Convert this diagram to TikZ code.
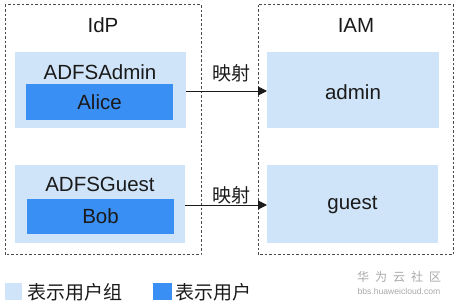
\documentclass[tikz,border=0pt]{standalone}
\usepackage{fontspec}
\setmainfont{Liberation Sans}
\newfontfamily\cjk{Noto Sans CJK SC}
\usetikzlibrary{arrows.meta,positioning}
\definecolor{lightgrp}{HTML}{CFE4F8}
\definecolor{darkusr}{HTML}{3A8FF5}
\definecolor{framegray}{HTML}{4A4A4A}
\definecolor{txt}{HTML}{1A1A1A}
\definecolor{wm}{HTML}{A8A8A8}
\tikzset{
  frame/.style={draw=framegray, line width=1pt, dash pattern=on 2.5pt off 2pt},
  grpbox/.style={fill=lightgrp, draw=none},
  usrbox/.style={fill=darkusr, draw=none},
  lbl/.style={font=\fontsize{20.5}{24}\selectfont, text=txt, inner sep=0pt},
  cjklbl/.style={font=\cjk\fontsize{19}{22}\selectfont, text=txt, inner sep=0pt},
  maparrow/.style={draw=txt, line width=0.9pt, -{Triangle[length=9pt,width=9pt]}},
}
\begin{document}
\begin{tikzpicture}[x=1pt,y=-1pt]
\useasboundingbox (0,0) rectangle (456,304);
% frames
\draw[frame] (5,5) rectangle (201,255);
\draw[frame] (258,5) rectangle (453,255);
\node[lbl] (idp) at (103,25) {IdP};
\node[lbl] (iam) at (356,25) {IAM};
% admin group
\path[grpbox] (15,52) rectangle (186,128);
\coordinate (g1e) at (186,91);
\node[lbl] (g1) at (100,72) {ADFSAdmin};
\path[usrbox] (26,84) rectangle (173,120);
\node[lbl] (alice) at (99.5,102) {Alice};
\path[grpbox] (267,52) rectangle (439,128);
\coordinate (a1w) at (267,91);
\node[lbl] (admin) at (353,92) {admin};
\draw[maparrow] (g1e) -- (a1w);
\node[cjklbl] (m1) at (231,73) {映射};
% guest group
\path[grpbox] (15,165) rectangle (185,243);
\coordinate (g2e) at (185,205);
\node[lbl] (g2) at (100,184) {ADFSGuest};
\path[usrbox] (27,199) rectangle (174,234);
\node[lbl] (bob) at (100.5,216.5) {Bob};
\path[grpbox] (267,165) rectangle (438,243);
\coordinate (a2w) at (267,205);
\node[lbl] (guest) at (352.5,205) {guest};
\draw[maparrow] (g2e) -- (a2w);
\node[cjklbl] (m2) at (231,195) {映射};
% legend
\path[grpbox] (5,283) rectangle (22,300);
\node[cjklbl, anchor=west] (leg1) at (27,292) {表示用户组};
\path[usrbox] (153,283) rectangle (172,300);
\node[cjklbl, anchor=west] (leg2) at (175,292) {表示用户};
% watermark
\node[font=\cjk\fontsize{12}{14}\selectfont, text=wm, inner sep=0pt] (wm1) at (399,277) {华\hspace{6pt}为\hspace{6pt}云\hspace{6pt}社\hspace{6pt}区};
\node[font=\fontsize{8.6}{10}\selectfont, text=wm, inner sep=0pt] (wm2) at (399,291) {bbs.huaweicloud.com};
\end{tikzpicture}
\end{document}
